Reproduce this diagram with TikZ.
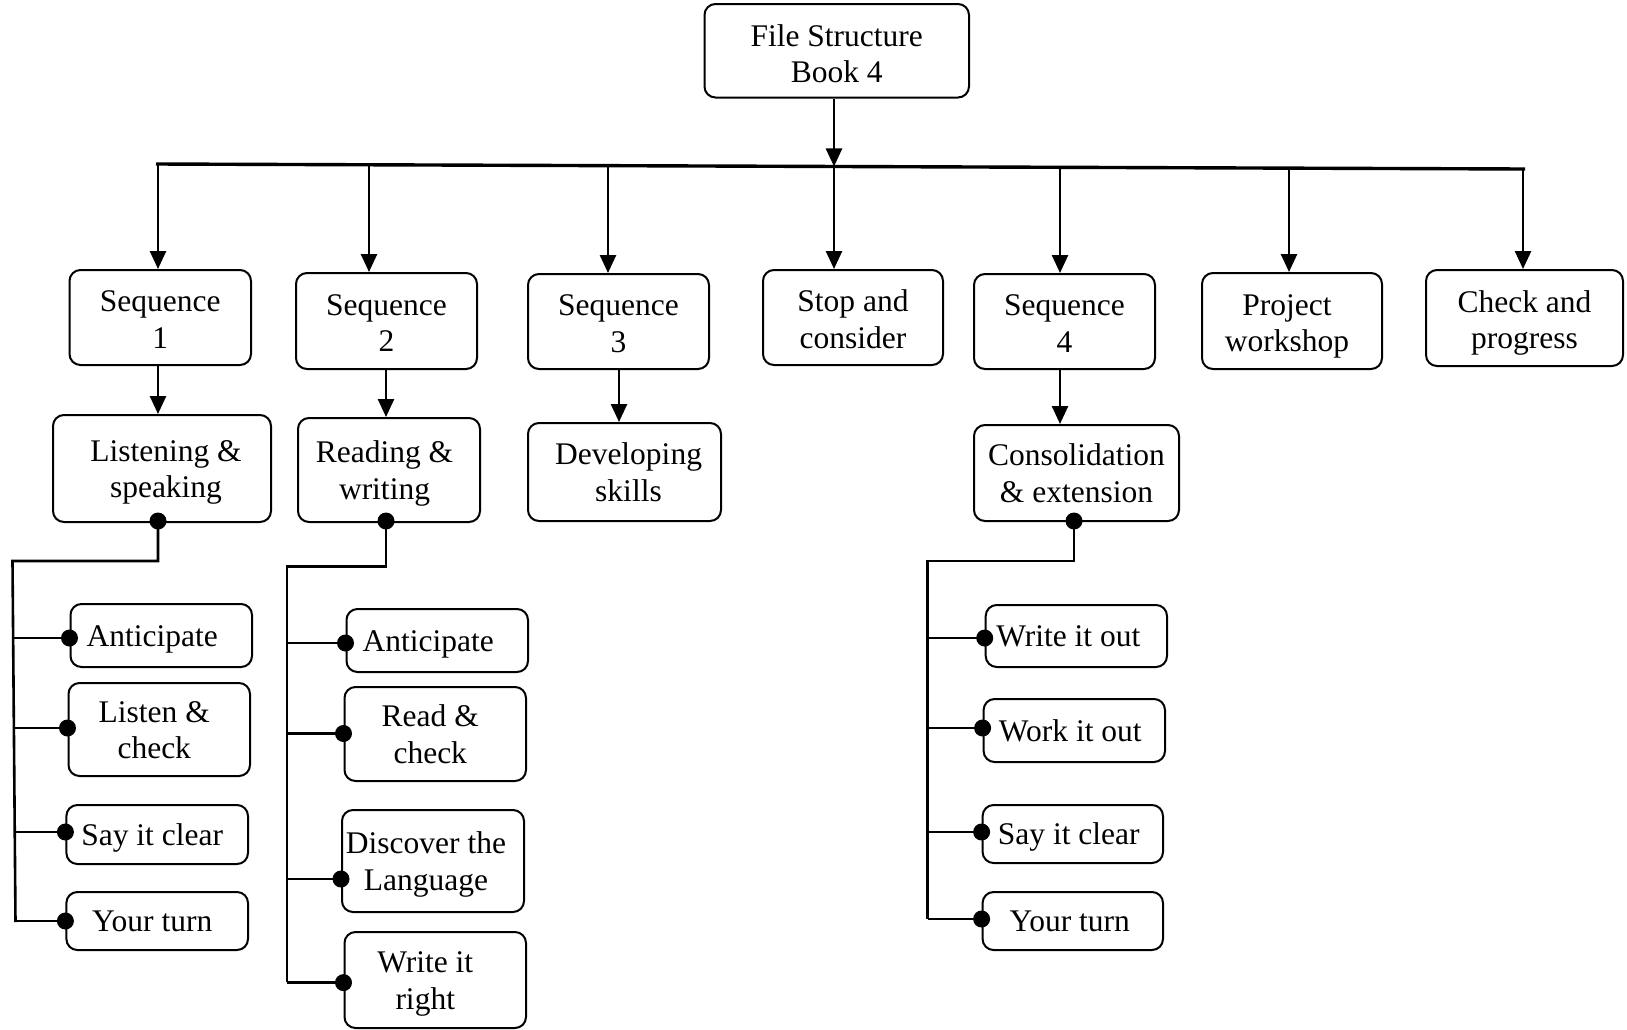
\documentclass[tikz,border=0pt]{standalone}
\usepackage{fontspec}
\setmainfont{Liberation Serif}
\usetikzlibrary{arrows.meta}
\newcommand\bxt[3][-3.5pt]{\raisebox{#1}[\height][\depth]{\hspace*{#2}\begin{tabular}{@{}c@{}}#3\end{tabular}\hspace*{-#2}}}
\begin{document}
\begin{tikzpicture}[x=1pt,y=-1pt,
  box/.style={draw, line width=2pt, rounded corners=11pt, inner sep=0pt,
    font=\fontsize{31.5}{36.5}\selectfont},
  conn/.style={line width=2.6pt},
  arr/.style={line width=2.6pt, -{Triangle[length=18pt,width=16pt]}},
  dot/.style={circle, fill=black, inner sep=0pt, minimum size=17pt}]
\useasboundingbox (0,0) rectangle (1627,1029);
% top
\node[box, minimum width=264.5pt, minimum height=93.5pt] (top) at (836.75,50.75) {\bxt[-6.5pt]{0pt}{File Structure\\Book 4}};
% level 2
\node[box, minimum width=181.5pt, minimum height=95pt] (seq1) at (160.25,317.5) {\bxt[-5pt]{0pt}{Sequence\\1}};
\node[box, minimum width=181pt, minimum height=96pt] (seq2) at (386.5,321) {\bxt[-5pt]{0pt}{Sequence\\2}};
\node[box, minimum width=181pt, minimum height=95pt] (seq3) at (618.5,321.5) {\bxt[-5pt]{0pt}{Sequence\\3}};
\node[box, minimum width=180pt, minimum height=95pt] (stop) at (853,317.5) {\bxt[-5pt]{0pt}{Stop and\\consider}};
\node[box, minimum width=181pt, minimum height=95pt] (seq4) at (1064.5,321.5) {\bxt[-5pt]{0pt}{Sequence\\4}};
\node[box, minimum width=180pt, minimum height=96pt] (proj) at (1292,321) {\bxt[-5pt]{-5pt}{Project\\workshop}};
\node[box, minimum width=197pt, minimum height=96pt] (check) at (1524.5,318) {\bxt[-5pt]{0pt}{Check and\\progress}};
% level 3
\node[box, minimum width=218pt, minimum height=107pt] (listen) at (162,468.5) {\bxt{4pt}{Listening \&\\speaking}};
\node[box, minimum width=182pt, minimum height=104pt] (read) at (389,470) {\bxt{-4.5pt}{Reading \&\\writing}};
\node[box, minimum width=193pt, minimum height=98pt] (dev) at (624.5,472) {\bxt{4pt}{Developing\\skills}};
\node[box, minimum width=205pt, minimum height=96pt] (cons) at (1076.5,473) {\bxt{0pt}{Consolidation\\\& extension}};
% branch A
\node[box, minimum width=181.5pt, minimum height=63pt] (a1) at (161.25,635.5) {\bxt{-9pt}{Anticipate}};
\node[box, minimum width=181.5pt, minimum height=93pt] (a2) at (159.25,729.5) {\bxt{-5pt}{Listen \&\\check}};
\node[box, minimum width=181.6pt, minimum height=59pt] (a3) at (157.2,834.5) {\bxt{-5pt}{Say it clear}};
\node[box, minimum width=181.6pt, minimum height=58pt] (a4) at (157.2,921) {\bxt{-5pt}{Your turn}};
% branch B
\node[box, minimum width=181.5pt, minimum height=63pt] (b1) at (437.25,640.5) {\bxt{-9pt}{Anticipate}};
\node[box, minimum width=181.5pt, minimum height=94pt] (b2) at (435.25,734) {\bxt{-5pt}{Read \&\\check}};
\node[box, minimum width=182pt, minimum height=102pt] (b3) at (433,861) {\bxt{-7pt}{Discover the\\Language}};
\node[box, minimum width=181.5pt, minimum height=96pt] (b4) at (435.25,980) {\bxt{-10pt}{Write it\\right}};
% branch C
\node[box, minimum width=181.3pt, minimum height=62pt] (c1) at (1076.35,636) {\bxt{-8pt}{Write it out}};
\node[box, minimum width=181.4pt, minimum height=63pt] (c2) at (1074.3,730.5) {\bxt{-4pt}{Work it out}};
\node[box, minimum width=180.4pt, minimum height=58pt] (c3) at (1072.8,834) {\bxt{-4pt}{Say it clear}};
\node[box, minimum width=180.4pt, minimum height=58pt] (c4) at (1072.8,921) {\bxt{-3pt}{Your turn}};
% bus (slightly tilted as in the reference)
\coordinate (busL) at (156,164);
\coordinate (busR) at (1525,169);
\draw[line width=3.4pt] (busL) -- (busR);
\coordinate (t0) at (834,166.48);
\draw[arr] (top.south -| t0) -- (t0);
\foreach \n/\x/\y in {seq1/158/164, seq2/369/164.77, seq3/608/165.65, stop/834/166.48, seq4/1060/167.3, proj/1289/168.14, check/1523/169}{
  \coordinate (bx-\n) at (\x,\y);
  \draw[arr] (bx-\n) -- (bx-\n |- \n.north);
}
% level 2 -> 3
\draw[arr] (seq1.south -| 158,0) -- (listen.north -| 158,0);
\draw[arr] (seq2.south -| 386,0) -- (read.north -| 386,0);
\draw[arr] (seq3.south -| 619,0) -- (dev.north -| 619,0);
\draw[arr] (seq4.south -| 1060,0) -- (cons.north -| 1060,0);
% branch A lines
\coordinate (sa) at (158,521);
\draw[conn] (sa) -- (158,561) -- (12.5,561) -- (15.5,922);
\node[dot] at (sa) {};
\foreach \b/\yy in {a1/638, a2/728, a3/832, a4/921}{
  \coordinate (p-\b) at (\b.west |- 0,\yy);
  \draw[conn] (14,\yy) -- (p-\b);
  \node[dot] at (p-\b) {};
}
% branch B lines
\coordinate (sb) at (386,521);
\draw[conn] (sb) -- (386,566.5) -- (287,566.5) -- (287,982);
\node[dot] at (sb) {};
\foreach \b/\yy in {b1/643, b2/733.5, b3/879, b4/982.6}{
  \coordinate (p-\b) at (\b.west |- 0,\yy);
  \draw[conn] (287,\yy) -- (p-\b);
  \node[dot] at (p-\b) {};
}
% branch C lines
\coordinate (sc) at (1074,521);
\draw[conn] (sc) -- (1074,561) -- (927.6,561) -- (927.6,919);
\node[dot] at (sc) {};
\foreach \b/\yy in {c1/638, c2/728, c3/832, c4/919}{
  \coordinate (p-\b) at (\b.west |- 0,\yy);
  \draw[conn] (927.6,\yy) -- (p-\b);
  \node[dot] at (p-\b) {};
}
\end{tikzpicture}
\end{document}
